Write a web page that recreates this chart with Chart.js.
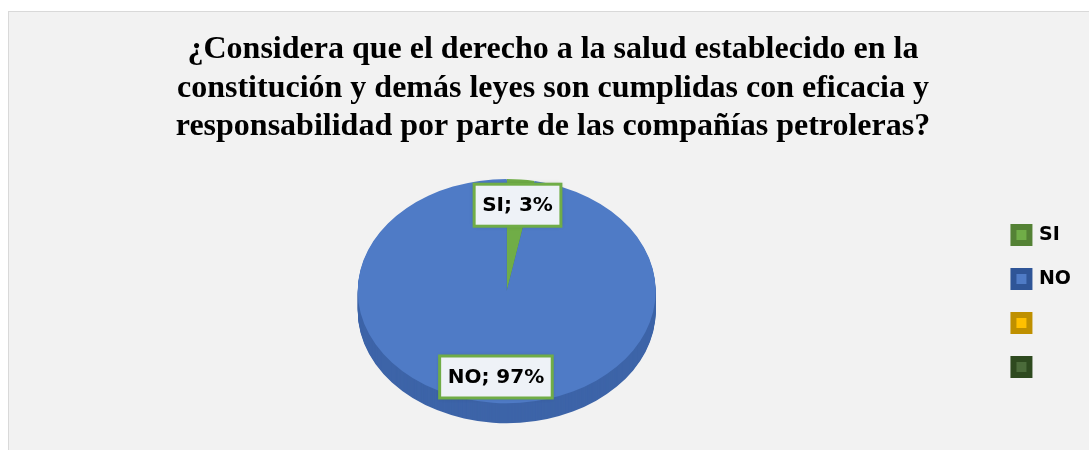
<!DOCTYPE html>
<html>
<head>
<meta charset="utf-8">
<script src="https://cdn.jsdelivr.net/npm/chart.js@4/dist/chart.umd.min.js"></script>
<style>
  html, body { margin: 0; padding: 0; background: #ffffff; }
  #wrap { width: 1089px; height: 450px; position: relative; }
</style>
</head>
<body>
<div id="wrap"><canvas id="pieChart"></canvas></div>
<script>
// datos del gráfico
const categories = ["SI", "NO", "", ""];
const values = [3, 97, 0, 0];
const titleLines = [
    "¿Considera que el derecho a la salud establecido en la",
    "constitución y demás leyes son cumplidas con eficacia y",
    "responsabilidad por parte de las compañías petroleras?"
];

const fills = ["#70ad47", "#4f7bc6", "#ffc000", "#4b6b3a"];
const borders = ["#548235", "#2f5597", "#bf9000", "#2e4a1f"];
const sides = ["#4f8a30", "#3d64a8", "#c89600", "#2e4a1f"];

const tilt = 0.752;   // vertical squash for the "3D" look
const depth = 20;

// panel background + border
const panelBg = {
    id: "panelBg",
    beforeDraw(chart) {
        const ctx = chart.ctx;
        ctx.save();
        ctx.fillStyle = "#ffffff";
        ctx.fillRect(0, 0, chart.width, chart.height);
        ctx.fillStyle = "#f2f2f2";
        ctx.fillRect(8, 11, chart.width, chart.height);
        ctx.strokeStyle = "#d9d9d9";
        ctx.lineWidth = 1;
        ctx.strokeRect(8.5, 11.5, chart.width, chart.height);
        ctx.restore();
    }
};

// squash the pie into an ellipse and draw a side wall under it
const pie3d = {
    id: "pie3d",
    beforeDatasetsDraw(chart) {
        const meta = chart.getDatasetMeta(0);
        const arc0 = meta.data[0];
        const ctx = chart.ctx;
        ctx.save();
        ctx.translate(0, -depth / 2);
        ctx.translate(arc0.x, arc0.y);
        ctx.scale(1, tilt);
        ctx.translate(-arc0.x, -arc0.y);
        for (let d = depth; d > 0; d--) {
            ctx.save();
            ctx.translate(0, d / tilt);
            meta.data.forEach((arc, i) => {
                if (!values[i]) return;
                const o = arc.options;
                const keep = [o.backgroundColor, o.borderWidth];
                o.backgroundColor = sides[i];
                o.borderWidth = 0;
                arc.draw(ctx);
                o.backgroundColor = keep[0];
                o.borderWidth = keep[1];
            });
            ctx.restore();
        }
    },
    afterDatasetsDraw(chart) {
        chart.ctx.restore();
    }
};

// data labels "SI; 3%"
const boxLabels = {
    id: "boxLabels",
    afterDatasetsDraw(chart) {
        const meta = chart.getDatasetMeta(0);
        const total = values.reduce((a, b) => a + b, 0);
        const ctx = chart.ctx;
        ctx.save();
        ctx.font = "bold 20px 'DejaVu Sans'";
        ctx.textAlign = "center";
        ctx.textBaseline = "middle";
        meta.data.forEach((arc, i) => {
            if (!values[i]) return;
            const mid = (arc.startAngle + arc.endAngle) / 2;
            const r = arc.outerRadius * 0.77;
            const x = arc.x + Math.cos(mid) * r;
            const y = arc.y - depth / 2 + Math.sin(mid) * r * tilt;
            const text = categories[i] + "; " + Math.round(values[i] / total * 100) + "%";
            const w = ctx.measureText(text).width + 16;
            const h = 42;
            ctx.shadowColor = "rgba(0,0,0,0.25)";
            ctx.shadowBlur = 4;
            ctx.fillStyle = "#eef2f7";
            ctx.fillRect(x - w / 2, y - h / 2, w, h);
            ctx.shadowColor = "transparent";
            ctx.strokeStyle = "#70ad47";
            ctx.lineWidth = 3;
            ctx.strokeRect(x - w / 2, y - h / 2, w, h);
            ctx.fillStyle = "#000000";
            ctx.fillText(text, x, y + 1);
        });
        ctx.restore();
    }
};

new Chart(document.getElementById("pieChart"), {
    type: "pie",
    data: {
        labels: categories,
        datasets: [{
            data: values,
            backgroundColor: fills,
            borderWidth: 0,
            radius: 149
        }]
    },
    options: {
        responsive: true,
        maintainAspectRatio: false,
        animation: false,
        layout: { padding: { left: 25, top: 12, right: 8, bottom: 9 } },
        plugins: {
            title: {
                display: true,
                text: titleLines,
                color: "#000000",
                font: { family: "'Liberation Serif', 'Times New Roman', serif", size: 32, weight: "bold", lineHeight: 1.2 },
                padding: { top: 19, bottom: 15 }
            },
            legend: {
                position: "right",
                fullSize: false,
                labels: {
                    color: "#000000",
                    font: { family: "'DejaVu Sans'", size: 19, weight: "bold" },
                    boxWidth: 16,
                    boxHeight: 16,
                    padding: 25,
                    generateLabels(chart) {
                        return categories.map((c, i) => ({
                            text: c,
                            fillStyle: fills[i],
                            strokeStyle: borders[i],
                            lineWidth: 6,
                            fontColor: "#000000",
                            hidden: false,
                            index: i
                        }));
                    }
                },
                onClick: null
            },
            tooltip: { enabled: false }
        }
    },
    plugins: [panelBg, pie3d, boxLabels]
});
</script>
</body>
</html>
